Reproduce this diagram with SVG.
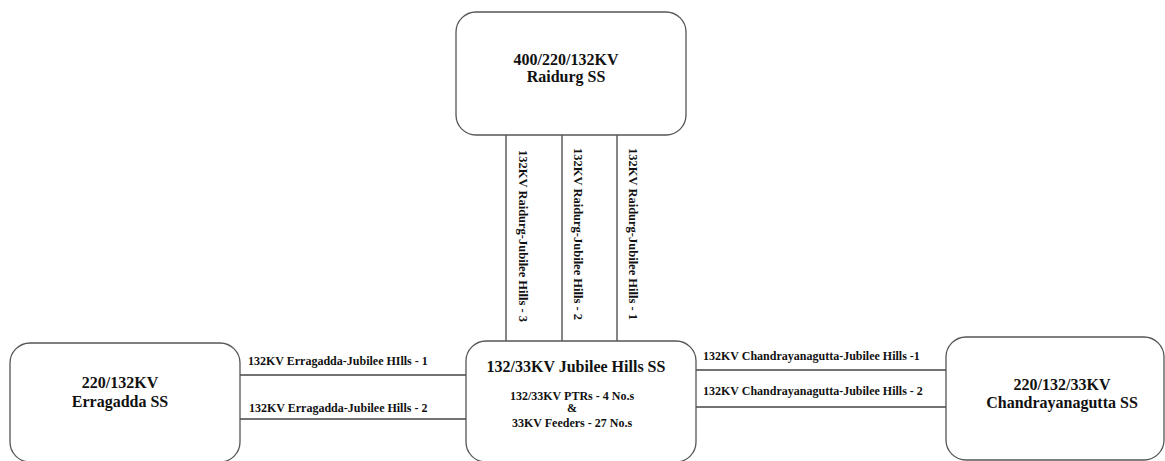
<svg xmlns="http://www.w3.org/2000/svg" width="1165" height="461" viewBox="0 0 1165 461">
<style>
.box{fill:#fff;stroke:#555;stroke-width:1.3}
.ln{stroke:#444;stroke-width:1.3;fill:none}
.t{font-family:"Liberation Serif","Times New Roman",serif;font-weight:bold;fill:#111}
.title{font-size:16px;text-anchor:middle}
.sub{font-size:12px;text-anchor:middle}
.lbl{font-size:12px}
.vl{font-size:12.5px}
</style>
<rect width="1165" height="461" fill="#fff"/>
<g id="connectors">
<line class="ln" x1="506" y1="135" x2="506" y2="341"/>
<line class="ln" x1="562" y1="135" x2="562" y2="341"/>
<line class="ln" x1="617" y1="135" x2="617" y2="341"/>
<line class="ln" x1="240" y1="375" x2="466" y2="375"/>
<line class="ln" x1="240" y1="419" x2="466" y2="419"/>
<line class="ln" x1="696" y1="370" x2="946" y2="370"/>
<line class="ln" x1="696" y1="407" x2="946" y2="407"/>
<text class="t vl" transform="translate(519,150) rotate(90)">132KV Raidurg-Jubilee Hills - 3</text>
<text class="t vl" transform="translate(574,148) rotate(90)">132KV Raidurg-Jubilee Hills - 2</text>
<text class="t vl" transform="translate(629,148) rotate(90)">132KV Raidurg-Jubilee Hills - 1</text>
<text class="t lbl" x="248" y="365">132KV Erragadda-Jubilee HIlls - 1</text>
<text class="t lbl" x="249" y="412">132KV Erragadda-Jubilee Hills - 2</text>
<text class="t lbl" x="703" y="360">132KV Chandrayanagutta-Jubilee Hills -1</text>
<text class="t lbl" x="703" y="395">132KV Chandrayanagutta-Jubilee Hills - 2</text>
</g>
<g id="raidurg">
<rect class="box" x="456" y="12" width="230" height="123" rx="20"/>
<text class="t title" x="566" y="65">400/220/132KV</text>
<text class="t title" x="566" y="82">Raidurg SS</text>
</g>
<g id="jubilee">
<rect class="box" x="466" y="341" width="230" height="121" rx="20"/>
<text class="t title" x="576" y="372">132/33KV Jubilee Hills SS</text>
<text class="t sub" x="572" y="400">132/33KV PTRs - 4 No.s</text>
<text class="t sub" x="572" y="412">&amp;</text>
<text class="t sub" x="572" y="427">33KV Feeders - 27 No.s</text>
</g>
<g id="erragadda">
<rect class="box" x="10" y="343" width="230" height="119" rx="20"/>
<text class="t title" x="120" y="388">220/132KV</text>
<text class="t title" x="120" y="407">Erragadda SS</text>
</g>
<g id="chandrayanagutta">
<rect class="box" x="946" y="337" width="218" height="123" rx="20"/>
<text class="t title" x="1062" y="390">220/132/33KV</text>
<text class="t title" x="1062" y="408">Chandrayanagutta SS</text>
</g>
</svg>
